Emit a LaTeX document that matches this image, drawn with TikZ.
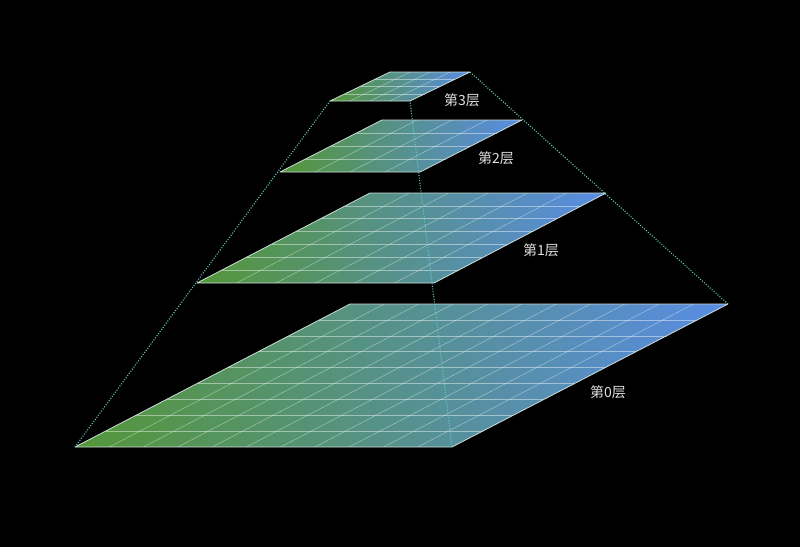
\documentclass[tikz,border=0pt]{standalone}
\usepackage{fontspec}
\newfontfamily\cjk{Noto Sans CJK SC}
\usepackage{tikz}
\usetikzlibrary{calc}
\definecolor{pyrgreen}{RGB}{84,150,56}
\definecolor{pyrblue}{RGB}{88,140,228}
\definecolor{pyredge}{RGB}{205,222,218}
\definecolor{pyrdot}{RGB}{100,205,195}
\tikzset{
  layerfill/.style={left color=pyrgreen, right color=pyrblue},
  layeredge/.style={draw=pyredge, line width=0.8pt, line join=round},
  gridline/.style={draw=white, opacity=0.45, line width=0.5pt},
  guide/.style={draw=pyrdot, line width=1.1pt, dash pattern=on 1pt off 1.6pt},
  layerlabel/.style={text=white!88!black, font=\cjk\fontsize{14}{16}\selectfont}
}
\begin{document}
\begin{tikzpicture}[x=1pt, y=-1pt]
    % Background
    \fill[black] (0,0) rectangle (800,547);
    \useasboundingbox (0,0) rectangle (800,547);

    % Corners of the layers
    \coordinate (l0bl) at (75,447);  \coordinate (l0br) at (452,447);
    \coordinate (l0tr) at (728,304); \coordinate (l0tl) at (350,304);
    \coordinate (l1bl) at (197,283); \coordinate (l1br) at (434,283);
    \coordinate (l1tr) at (606,193); \coordinate (l1tl) at (370,193);
    \coordinate (l2bl) at (280,172); \coordinate (l2br) at (420,172);
    \coordinate (l2tr) at (522,120); \coordinate (l2tl) at (382,120);
    \coordinate (l3bl) at (330,101); \coordinate (l3br) at (410,101);
    \coordinate (l3tr) at (470,72);  \coordinate (l3tl) at (390,72);

    % Layer 0
    \shade[layerfill] (l0bl) -- (l0br) -- (l0tr) -- (l0tl) -- cycle;
    \foreach \i in {1,...,8}
        \draw[gridline] ($(l0bl)!\i/9!(l0tl)$) -- ($(l0br)!\i/9!(l0tr)$);
    \foreach \j in {1,...,10}
        \draw[gridline] ($(l0bl)!\j/11!(l0br)$) -- ($(l0tl)!\j/11!(l0tr)$);
    \draw[layeredge] (l0bl) -- (l0br) -- (l0tr) -- (l0tl) -- cycle;

    % Layer 1
    \shade[layerfill] (l1bl) -- (l1br) -- (l1tr) -- (l1tl) -- cycle;
    \foreach \i in {1,...,6}
        \draw[gridline] ($(l1bl)!\i/7!(l1tl)$) -- ($(l1br)!\i/7!(l1tr)$);
    \foreach \j in {1,...,5}
        \draw[gridline] ($(l1bl)!\j/6!(l1br)$) -- ($(l1tl)!\j/6!(l1tr)$);
    \draw[layeredge] (l1bl) -- (l1br) -- (l1tr) -- (l1tl) -- cycle;

    % Layer 2
    \shade[layerfill] (l2bl) -- (l2br) -- (l2tr) -- (l2tl) -- cycle;
    \foreach \i in {1,...,3}
        \draw[gridline] ($(l2bl)!\i/4!(l2tl)$) -- ($(l2br)!\i/4!(l2tr)$);
    \foreach \j in {1,...,3}
        \draw[gridline] ($(l2bl)!\j/4!(l2br)$) -- ($(l2tl)!\j/4!(l2tr)$);
    \draw[layeredge] (l2bl) -- (l2br) -- (l2tr) -- (l2tl) -- cycle;

    % Layer 3
    \shade[layerfill] (l3bl) -- (l3br) -- (l3tr) -- (l3tl) -- cycle;
    \foreach \i in {1,...,3}
        \draw[gridline] ($(l3bl)!\i/4!(l3tl)$) -- ($(l3br)!\i/4!(l3tr)$);
    \foreach \j in {1,...,3}
        \draw[gridline] ($(l3bl)!\j/4!(l3br)$) -- ($(l3tl)!\j/4!(l3tr)$);
    \draw[layeredge] (l3bl) -- (l3br) -- (l3tr) -- (l3tl) -- cycle;

    % Guide lines
    \draw[guide] (l0bl) -- (l3bl);
    \draw[guide] (l0br) -- (l3br);
    \draw[guide] (l0tr) -- (l3tr);

    % Labels
    \node[layerlabel] (lab3) at (462,100) {第3层};
    \node[layerlabel] (lab2) at (496,158) {第2层};
    \node[layerlabel] (lab1) at (541,250) {第1层};
    \node[layerlabel] (lab0) at (608,392) {第0层};
\end{tikzpicture}
\end{document}
